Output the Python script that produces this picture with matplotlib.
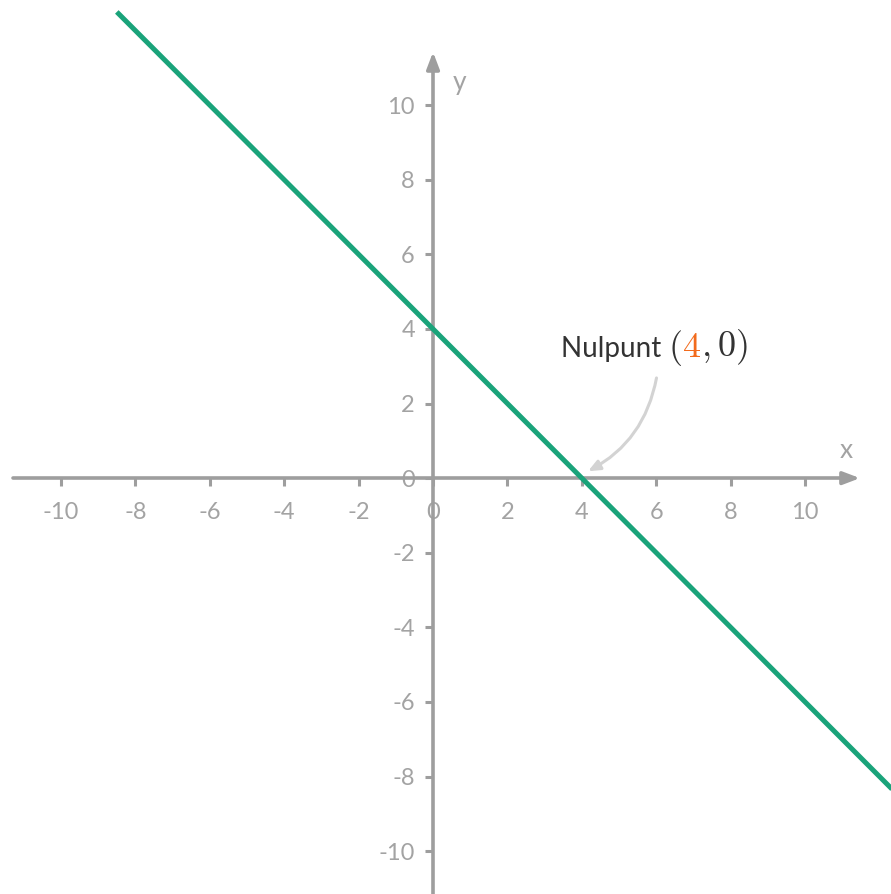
import matplotlib
matplotlib.use('Agg')
import matplotlib.pyplot as plt
from matplotlib.offsetbox import TextArea, HPacker, AnnotationBbox

# line y = -x + 4
line_x = [-8.5, 13.0]
line_y = [-x + 4 for x in line_x]
ticks = [-10, -8, -6, -4, -2, 0, 2, 4, 6, 8, 10]
root = (4, 0)

grey = '#9e9e9e'
green = '#1aa37a'
orange = '#f26b1d'

plt.rcParams['mathtext.fontset'] = 'cm'
plt.rcParams['axes.unicode_minus'] = False

fig = plt.figure(figsize=(8.91, 8.94), dpi=100)
ax = fig.add_axes([0, 0, 1, 1])
ax.set_xlim(-11.64, 12.31)
ax.set_ylim(-11.15, 12.82)

for s in ['top', 'right']:
    ax.spines[s].set_visible(False)
ax.spines['bottom'].set_position(('data', 0))
ax.spines['left'].set_position(('data', 0))
ax.spines['bottom'].set_bounds(-11.3, 11.0)
ax.spines['left'].set_bounds(-11.2, 11.0)
for s in ['bottom', 'left']:
    ax.spines[s].set_color(grey)
    ax.spines[s].set_linewidth(2.6)
    ax.spines[s].set_capstyle('round')

ax.set_xticks(ticks)
ax.set_yticks(ticks)
ax.tick_params(axis='both', direction='out', length=6, width=2.2, color=grey,
               labelcolor='#a3a3a3', labelsize=17)
ax.tick_params(axis='x', pad=11)
ax.tick_params(axis='y', pad=7)
for lab in ax.get_xticklabels() + ax.get_yticklabels():
    lab.set_family('Lato')

# arrow heads
ax.annotate('', xy=(11.55, 0), xytext=(10.9, 0),
            arrowprops=dict(arrowstyle='-|>,head_length=1.0,head_width=0.38',
                            color=grey, lw=2.6))
ax.annotate('', xy=(0, 11.5), xytext=(0, 10.9),
            arrowprops=dict(arrowstyle='-|>,head_length=1.0,head_width=0.38',
                            color=grey, lw=2.6))
ax.text(11.1, 0.75, 'x', color='#a3a3a3', fontsize=19, family='Lato',
        ha='center', va='center')
ax.text(0.7, 10.6, 'y', color='#a3a3a3', fontsize=19, family='Lato',
        ha='center', va='center')

ax.plot(line_x, line_y, color=green, lw=3.6, solid_capstyle='butt', zorder=3)

# annotation
parts = [TextArea('Nulpunt ', textprops=dict(color='#333333', fontsize=20, family='Lato')),
         TextArea('$($', textprops=dict(color='#333333', fontsize=26)),
         TextArea('$4$', textprops=dict(color=orange, fontsize=26)),
         TextArea('$,0)$', textprops=dict(color='#333333', fontsize=26))]
box = HPacker(children=parts, pad=0, sep=0, align='baseline')
ab = AnnotationBbox(box, (5.95, 3.5), frameon=False, box_alignment=(0.5, 0.5))
ax.add_artist(ab)

ax.annotate('', xy=(root[0] + 0.1, root[1] + 0.15), xytext=(6.02, 2.76),
            arrowprops=dict(arrowstyle='-|>,head_length=0.7,head_width=0.3',
                            color='#d3d3d3', lw=2.2,
                            connectionstyle='arc3,rad=-0.25'))

fig.savefig('out.png', dpi=100)
